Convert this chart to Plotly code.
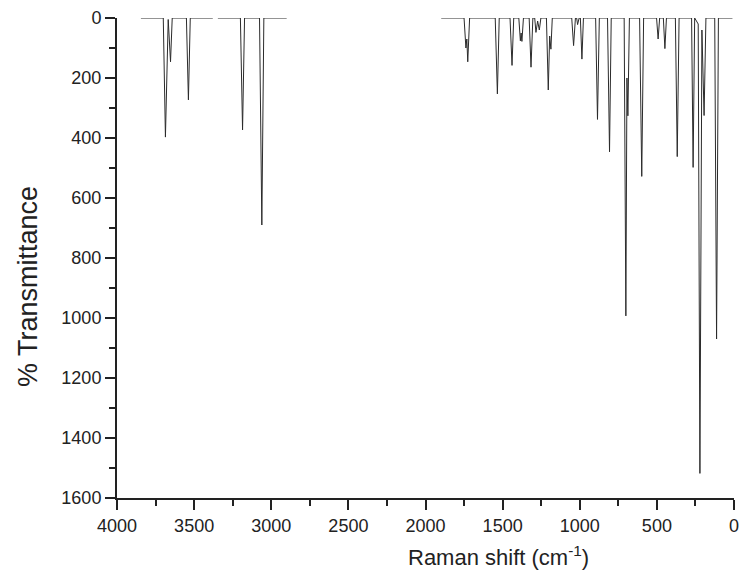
import plotly.graph_objects as go

# Raman spectrum: vertex positions (cm-1) and depths,
# three measured windows separated by gaps (None)
shift_hi = [3845, 3700, 3686, 3668, 3653, 3642, 3550, 3537, 3525, 3379]
depth_hi = [0, 0, 397, 5, 146, 0, 0, 273, 0, 0]

shift_ch = [3346, 3200, 3186, 3173, 3076, 3061, 3048, 2900]
depth_ch = [0, 0, 373, 0, 0, 690, 0, 0]

shift_fp = [1898, 1750, 1738, 1732, 1726, 1714, 1548, 1534, 1522, 1452, 1439, 1428,
            1395, 1385, 1380, 1375, 1365, 1328, 1316, 1304, 1292, 1284, 1273, 1262,
            1252, 1216, 1204, 1195, 1187, 1178, 1052, 1040, 1028, 1020, 1014, 1004,
            996, 986, 976, 897, 885, 873, 820, 807, 796, 712, 701, 694, 688, 678,
            612, 598, 586, 502, 492, 482, 458, 448, 438, 380, 368, 356, 275, 265,
            255, 232, 221, 208, 194, 182, 125, 113, 101, 10]
depth_fp = [0, 0, 100, 70, 146, 0, 0, 253, 0, 0, 158, 0,
            0, 76, 50, 78, 0, 0, 164, 0, 0, 48, 10, 40,
            0, 0, 240, 60, 104, 0, 0, 92, 0, 0, 22, 0,
            0, 137, 0, 0, 338, 0, 0, 446, 0, 0, 993, 200, 326, 0,
            0, 528, 0, 0, 70, 0, 0, 102, 0, 0, 462, 0, 0, 498,
            0, 20, 1518, 40, 325, 0, 0, 1070, 0, 0]

x = shift_hi + [None] + shift_ch + [None] + shift_fp
y = depth_hi + [None] + depth_ch + [None] + depth_fp

fig = go.Figure()
fig.add_trace(go.Scatter(x=x, y=y, mode="lines", connectgaps=False,
                         line=dict(color="#2b2b2b", width=1), showlegend=False))

fam = "Liberation Sans, Arial, sans-serif"
axis_font = dict(family=fam, size=18, color="#222")

fig.update_layout(
    width=740, height=574,
    margin=dict(l=117, r=6, t=18, b=76),
    plot_bgcolor="white", paper_bgcolor="white",
    font=axis_font,
    xaxis=dict(
        range=[4000, 0], tickvals=list(range(0, 4001, 500)),
        showgrid=False, zeroline=False, automargin=False,
        showline=True, linecolor="#222", linewidth=2,
        ticks="outside", ticklen=10, tickwidth=2, tickcolor="#222",
        minor=dict(dtick=250, ticks="outside", ticklen=6, tickwidth=2, tickcolor="#222"),
        tickfont=axis_font,
    ),
    yaxis=dict(
        range=[1600, 0], tickvals=list(range(0, 1601, 200)),
        showgrid=False, zeroline=False, automargin=False,
        showline=True, linecolor="#222", linewidth=2,
        ticks="outside", ticklen=10, tickwidth=2, tickcolor="#222",
        minor=dict(dtick=100, ticks="outside", ticklen=6, tickwidth=2, tickcolor="#222"),
        tickfont=axis_font,
    ),
    annotations=[
        dict(text="% Transmittance", xref="paper", yref="paper",
             x=-0.144, y=0.44, textangle=-90, xanchor="center", yanchor="middle",
             showarrow=False, font=dict(family=fam, size=27, color="#222")),
        dict(text="Raman shift (cm<sup>-1</sup>)", xref="paper", yref="paper",
             x=0.619, y=0, yshift=-58, xanchor="center", yanchor="middle",
             showarrow=False, font=dict(family=fam, size=22, color="#222")),
    ],
)

# the page's default body margin would push the 740x574 figure off the window
fig.write_html("out.html", config={"displayModeBar": False},
               post_script="document.body.style.margin='0';")
